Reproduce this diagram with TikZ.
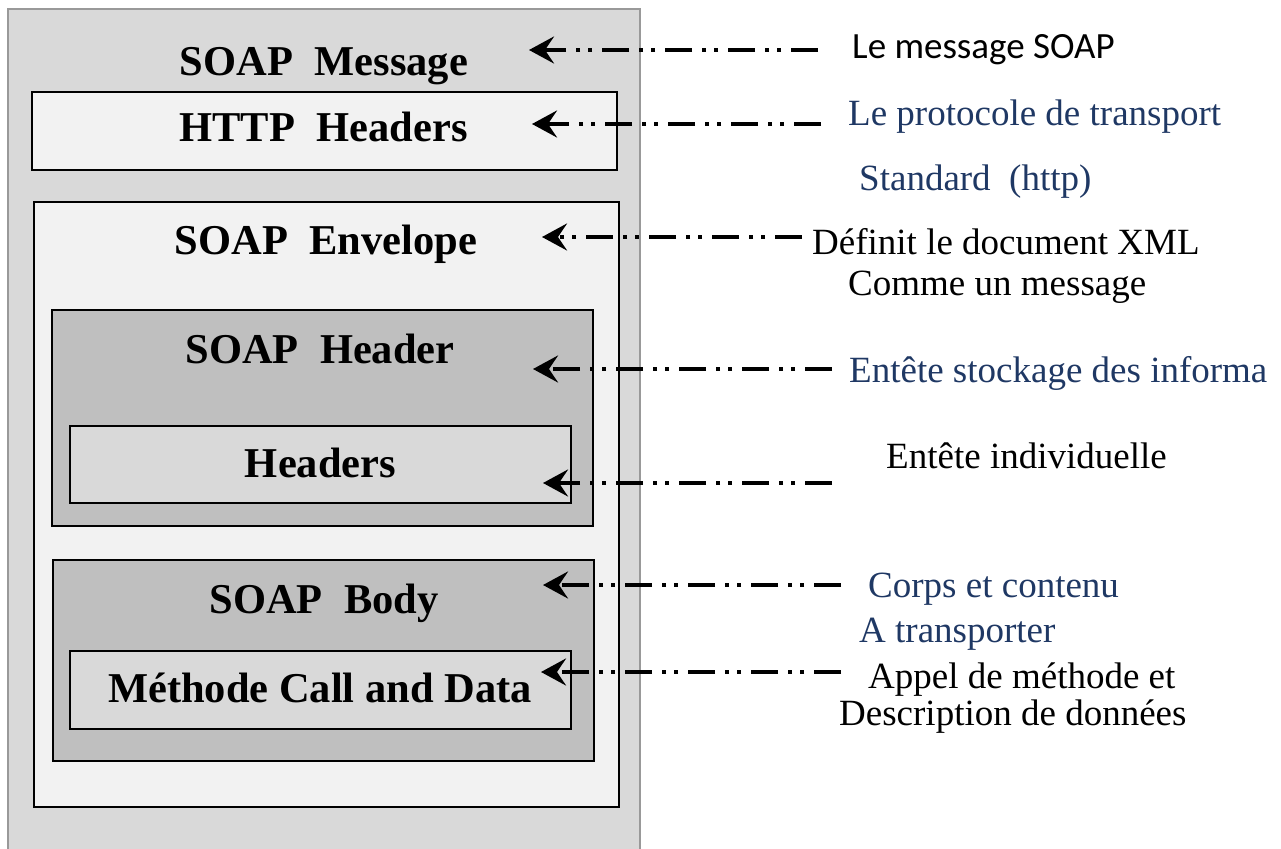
\documentclass[tikz,border=0pt]{standalone}
\usepackage{fontspec}
\setmainfont{Liberation Serif}
\newfontfamily\notesans{Carlito}
\usetikzlibrary{arrows.meta}
\definecolor{boxlight}{HTML}{F2F2F2}
\definecolor{boxmid}{HTML}{D9D9D9}
\definecolor{boxdark}{HTML}{BFBFBF}
\definecolor{noteblue}{HTML}{1F3864}

\begin{document}
\begin{tikzpicture}[x=1pt, y=-1pt,
  box/.style={draw, line width=2pt, inner sep=0pt},
  title/.style={anchor=base, inner sep=0pt, font=\fontsize{42.5}{50}\selectfont\bfseries},
  note/.style={anchor=base west, inner sep=0pt, font=\fontsize{37}{44}\selectfont},
  pointer/.style={line width=3.5pt, dash pattern=on 27pt off 10pt on 4pt off 8pt on 4pt off 10pt,
    -{Stealth[length=25pt, width=27pt, inset=9pt]}}]
\useasboundingbox (0,0) rectangle (1281,848);
% boxes, outside in
\node[box, draw=black!40, line width=1.5pt, fill=boxmid, minimum width=632pt, minimum height=861pt] (msg) at (324,439.5) {};
\node[box, fill=boxlight, minimum width=585pt, minimum height=78pt] (http) at (324.5,131) {};
\node[box, fill=boxlight, minimum width=585pt, minimum height=605pt] (env) at (326.5,504.5) {};
\node[box, fill=boxdark, minimum width=541pt, minimum height=216pt] (hdr) at (322.5,418) {};
\node[box, fill=boxmid, minimum width=501pt, minimum height=77pt] (hdrs) at (320.5,464.5) {};
\node[box, fill=boxdark, minimum width=541pt, minimum height=201pt] (body) at (323.5,660.5) {};
\node[box, fill=boxmid, minimum width=501pt, minimum height=78pt] (call) at (320.5,690) {};
% titles
\node[title] (tmsg) at (324,76) {SOAP\ \ Message};
\node[title] (thttp) at (323.5,141) {HTTP\ \ Headers};
\node[title] (tenv) at (326,254) {SOAP\ \ Envelope};
\node[title] (thdr) at (320,363) {SOAP\ \ Header};
\node[title] (thdrs) at (320.5,477) {Headers};
\node[title] (tbody) at (324,613) {SOAP\ \ Body};
\node[title] (tcall) at (320,702) {Méthode Call and Data};
% notes on the right
\node[note, font=\fontsize{37}{44}\selectfont\notesans] (n1) at (852,59) {Le message SOAP};
\node[note, text=noteblue] (n2) at (848,125) {Le protocole de transport};
\node[note, text=noteblue] (n3) at (859,190) {Standard\ \ (http)};
\node[note] (n4) at (812,254) {Définit le document XML};
\node[note] (n5) at (848,295) {Comme un message};
\node[note, text=noteblue] (n6) at (849,382) {Entête stockage des informa};
\node[note] (n7) at (886,468) {Entête individuelle};
\node[note, text=noteblue] (n8) at (868,597) {Corps et contenu};
\node[note, text=noteblue] (n9) at (859,642) {A transporter};
\node[note] (n10) at (868,688) {Appel de méthode et};
\node[note] (n11) at (839,725) {Description de données};
% pointers
\foreach \i/\xt/\xh/\y in {1/818/529/50, 2/821/532/124, 3/802/542/237, 4/832/533/369,
    5/832/543/483, 6/841/543/585, 7/841/541/672} {
  \coordinate (t\i) at (\xt,\y);
  \coordinate (h\i) at (\xh,\y);
  \draw[pointer] (t\i) -- (h\i);
}
\end{tikzpicture}
\end{document}
